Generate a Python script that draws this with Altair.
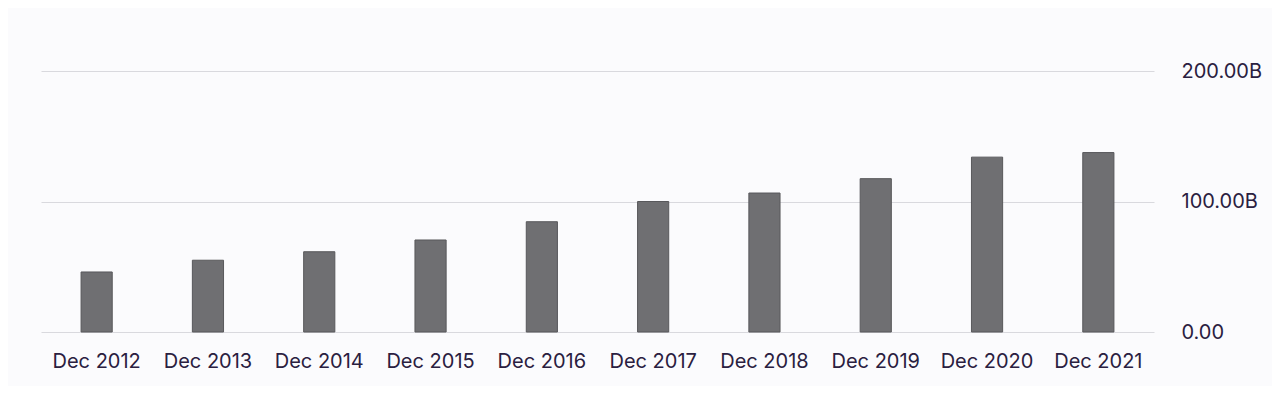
import altair as alt
import pandas as pd

periods = ["Dec 2012", "Dec 2013", "Dec 2014", "Dec 2015", "Dec 2016",
           "Dec 2017", "Dec 2018", "Dec 2019", "Dec 2020", "Dec 2021"]
values_b = [46.0, 55.0, 61.5, 70.5, 84.5, 100.0, 106.5, 117.5, 134.0, 137.5]
y_ticks = [0, 100, 200]

df = pd.DataFrame({"period": periods, "value": values_b})

text_color = "#2a2040"

chart = alt.Chart(df).mark_bar(
    color="#6f6f72", stroke="#58585b", strokeWidth=1
).encode(
    x=alt.X("period:N", sort=periods, title=None,
            scale=alt.Scale(paddingInner=0.72, paddingOuter=0.36),
            axis=alt.Axis(labelAngle=0, domain=False, ticks=False,
                          labelFont="Inter", labelFontSize=20,
                          labelColor=text_color, labelPadding=19)),
    y=alt.Y("value:Q", title=None,
            scale=alt.Scale(domain=[0, 200]),
            axis=alt.Axis(orient="right", values=y_ticks, domain=False,
                          ticks=False, grid=True, gridColor="#d9d9de",
                          gridWidth=1.2,
                          labelExpr="datum.value == 0 ? '0.00' : format(datum.value, '.2f') + 'B'",
                          labelFont="Inter", labelFontSize=20,
                          labelColor=text_color, labelPadding=27,
                          labelAlign="left", labelBaseline="middle")),
).properties(
    width=1113, height=261,
    background="#fbfbfd",
    autosize=alt.AutoSizeParams(type="none"),
    padding={"left": 33, "top": 63, "right": 118, "bottom": 54},
).configure_view(stroke=None)

chart.save("out.html", embed_options={"renderer": "svg", "actions": False})
